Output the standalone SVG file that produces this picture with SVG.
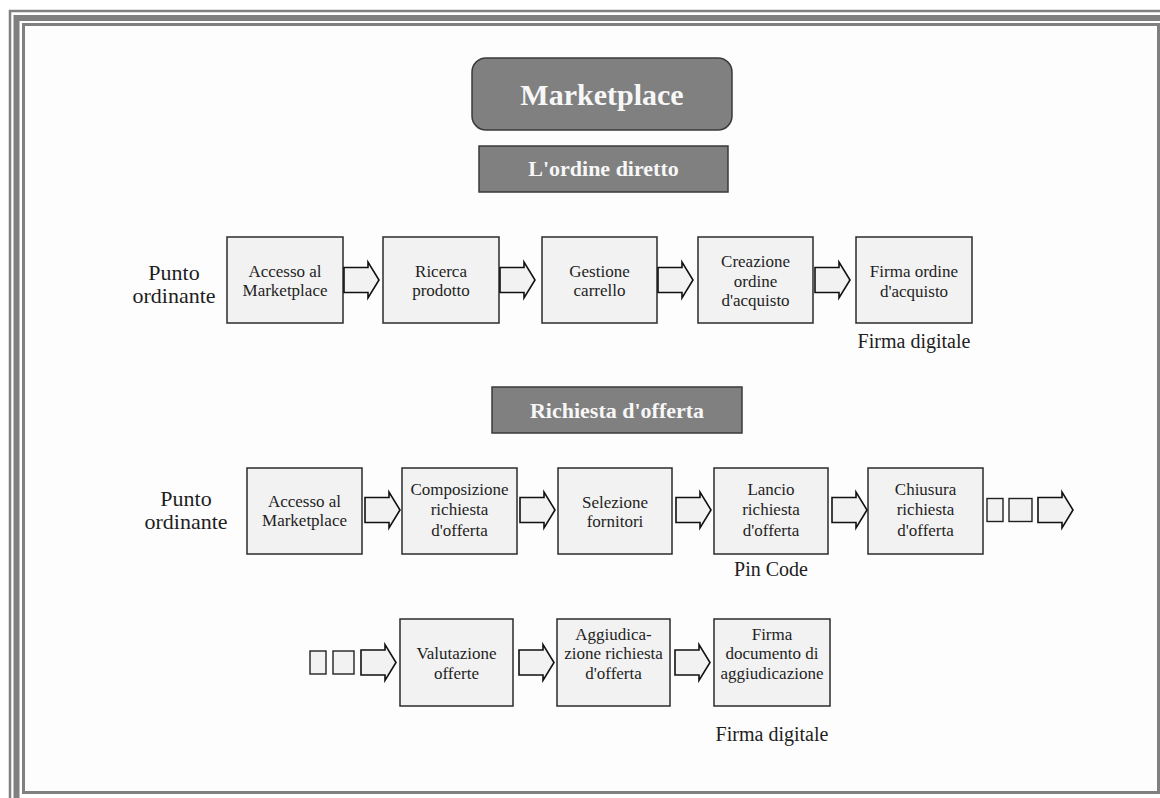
<svg xmlns="http://www.w3.org/2000/svg" width="1160" height="798" viewBox="0 0 1160 798">
  <defs>
    <style>
      .frame{fill:none;stroke:#808080}
      .step rect{fill:#f2f2f2;stroke:#2b2b2b;stroke-width:1.5}
      .step text,.side,.note{font-family:"Liberation Serif","Times New Roman",serif;fill:#1e1e1e;text-anchor:middle}
      .step text{font-size:17px}
      .side{font-size:22px}
      .note{font-size:20px}
      .head rect{fill:#808080;stroke:#3a3a3a;stroke-width:1.5}
      .head text{font-family:"Liberation Serif","Times New Roman",serif;font-weight:bold;fill:#f7f7f7;text-anchor:middle}
      .blk{fill:#f2f2f2;stroke:#111;stroke-width:1.6;stroke-linejoin:miter}
      .dot{fill:#f2f2f2;stroke:#222;stroke-width:1.4}
    </style>
    <!-- block arrow, origin at the tail on the centre line -->
    <path id="blk" d="M0,-12.5H24V-18L35,0L24,18V12.5H0Z"/>
  </defs>

  <!-- page and triple frame -->
  <rect x="0" y="0" width="1160" height="798" fill="#ffffff"/>
  <rect x="23.5" y="24.5" width="1135" height="768" fill="#fdfdfd"/>
  <rect class="frame" x="10" y="11" width="1250" height="900" stroke-width="2.5"/>
  <rect class="frame" x="16.5" y="18" width="1250" height="900" stroke-width="6"/>
  <rect class="frame" x="23.5" y="24.5" width="1135" height="768" stroke-width="3"/>

  <!-- headings -->
  <g id="title" class="head">
    <rect x="472" y="58" width="260" height="72" rx="14"/>
    <text x="602" y="105" font-size="30">Marketplace</text>
  </g>
  <g id="head-ordine" class="head">
    <rect x="479" y="146" width="249" height="46"/>
    <text x="603.5" y="176" font-size="22">L'ordine diretto</text>
  </g>
  <g id="head-richiesta" class="head">
    <rect x="492" y="387" width="250" height="46"/>
    <text x="617" y="418" font-size="22">Richiesta d'offerta</text>
  </g>

  <!-- side labels -->
  <g id="punto-1">
    <text class="side" x="174" y="280">Punto</text>
    <text class="side" x="174" y="303">ordinante</text>
  </g>
  <g id="punto-2">
    <text class="side" x="186" y="506">Punto</text>
    <text class="side" x="186" y="529">ordinante</text>
  </g>

  <!-- row 1: ordine diretto -->
  <g id="o1" class="step">
    <rect x="227" y="237" width="116" height="86"/>
    <text x="285" y="277">Accesso al</text>
    <text x="285" y="296">Marketplace</text>
  </g>
  <g id="o2" class="step">
    <rect x="383" y="237" width="116" height="86"/>
    <text x="441" y="277">Ricerca</text>
    <text x="441" y="296">prodotto</text>
  </g>
  <g id="o3" class="step">
    <rect x="542" y="237" width="115" height="86"/>
    <text x="599.5" y="277">Gestione</text>
    <text x="599.5" y="296">carrello</text>
  </g>
  <g id="o4" class="step">
    <rect x="698" y="237" width="115" height="86"/>
    <text x="755.5" y="267">Creazione</text>
    <text x="755.5" y="287">ordine</text>
    <text x="755.5" y="306">d'acquisto</text>
  </g>
  <g id="o5" class="step">
    <rect x="856" y="237" width="116" height="86"/>
    <text x="914" y="277" font-size="16.5">Firma ordine</text>
    <text x="914" y="297" font-size="16.5">d'acquisto</text>
  </g>
  <text id="firma-1" class="note" x="914" y="348" font-size="21">Firma digitale</text>

  <!-- row 2: richiesta d'offerta -->
  <g id="r1" class="step">
    <rect x="247" y="468" width="115" height="86"/>
    <text x="304.5" y="507">Accesso al</text>
    <text x="304.5" y="526">Marketplace</text>
  </g>
  <g id="r2" class="step">
    <rect x="402" y="468" width="115" height="86"/>
    <text x="459.5" y="495">Composizione</text>
    <text x="459.5" y="515">richiesta</text>
    <text x="459.5" y="536">d'offerta</text>
  </g>
  <g id="r3" class="step">
    <rect x="558" y="468" width="114" height="86"/>
    <text x="615" y="508">Selezione</text>
    <text x="615" y="527">fornitori</text>
  </g>
  <g id="r4" class="step">
    <rect x="714" y="468" width="114" height="86"/>
    <text x="771" y="495">Lancio</text>
    <text x="771" y="515">richiesta</text>
    <text x="771" y="536">d'offerta</text>
  </g>
  <g id="r5" class="step">
    <rect x="868" y="468" width="115" height="86"/>
    <text x="925.5" y="495">Chiusura</text>
    <text x="925.5" y="515">richiesta</text>
    <text x="925.5" y="536">d'offerta</text>
  </g>
  <text id="pin" class="note" x="771" y="576">Pin Code</text>

  <!-- row 3: continuation -->
  <g id="v1" class="step">
    <rect x="400" y="619" width="113" height="87"/>
    <text x="456.5" y="659">Valutazione</text>
    <text x="456.5" y="679">offerte</text>
  </g>
  <g id="v2" class="step">
    <rect x="557" y="619" width="113" height="87"/>
    <text x="613.5" y="640">Aggiudica-</text>
    <text x="613.5" y="659">zione richiesta</text>
    <text x="613.5" y="679">d'offerta</text>
  </g>
  <g id="v3" class="step">
    <rect x="714" y="619" width="116" height="87"/>
    <text x="772" y="640">Firma</text>
    <text x="772" y="659">documento di</text>
    <text x="772" y="679">aggiudicazione</text>
  </g>
  <text id="firma-2" class="note" x="772" y="741" font-size="21">Firma digitale</text>

  <!-- connectors -->
  <g id="connectors">
    <use href="#blk" class="blk" x="344" y="280"/>
    <use href="#blk" class="blk" x="500" y="280"/>
    <use href="#blk" class="blk" x="658" y="280"/>
    <use href="#blk" class="blk" x="815" y="280"/>

    <use href="#blk" class="blk" x="365" y="510"/>
    <use href="#blk" class="blk" x="520" y="510"/>
    <use href="#blk" class="blk" x="676" y="510"/>
    <use href="#blk" class="blk" x="832" y="510"/>
    <rect class="dot" x="987" y="498.5" width="16" height="23"/>
    <rect class="dot" x="1009" y="498.5" width="23" height="23"/>
    <use href="#blk" class="blk" x="1038" y="510"/>

    <rect class="dot" x="310" y="651" width="16" height="23"/>
    <rect class="dot" x="333" y="651" width="21" height="23"/>
    <use href="#blk" class="blk" x="361" y="662.5"/>
    <use href="#blk" class="blk" x="519" y="662.5"/>
    <use href="#blk" class="blk" x="675" y="662.5"/>
  </g>
</svg>
